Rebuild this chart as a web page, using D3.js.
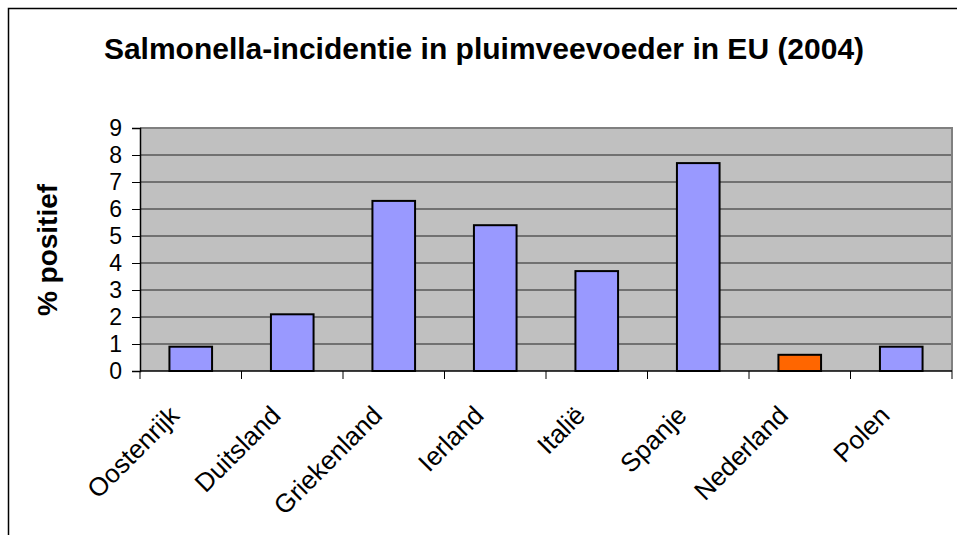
<!DOCTYPE html>
<html>
<head>
<meta charset="utf-8">
<script src="https://cdn.jsdelivr.net/npm/d3@7"></script>
<style>
  body { margin: 0; background: #fff; }
  text { font-family: Arial, "Liberation Sans", sans-serif; }
</style>
</head>
<body>
<svg id="svg"></svg>
<script>
const width = 957, height = 535;

const countries = ['Oostenrijk', 'Duitsland', 'Griekenland', 'Ierland', 'Italië', 'Spanje', 'Nederland', 'Polen'];
const values = [0.9, 2.1, 6.3, 5.4, 3.7, 7.7, 0.6, 0.9];
const highlight = ['Nederland'];
const yTicks = [0, 1, 2, 3, 4, 5, 6, 7, 8, 9];

const margin = { left: 140, right: 5, top: 128, bottom: 164 };
const plotW = width - margin.left - margin.right;
const plotH = height - margin.top - margin.bottom;

const svg = d3.select('#svg')
    .attr('width', width)
    .attr('height', height);

// outer chart frame (runs off the picture on the right and bottom)
svg.append('path')
    .attr('d', `M8.5,${height + 5}V8.5H${width + 5}`)
    .attr('fill', 'none')
    .attr('stroke', '#000')
    .attr('stroke-width', 1.5);

svg.append('text')
    .attr('x', 484)
    .attr('y', 59)
    .attr('text-anchor', 'middle')
    .style('font-size', '30px')
    .style('font-weight', 'bold')
    .text('Salmonella-incidentie in pluimveevoeder in EU (2004)');

const g = svg.append('g').attr('transform', `translate(${margin.left},${margin.top})`);

const x = d3.scaleBand()
    .domain(countries)
    .range([0, plotW])
    .paddingInner(0.58)
    .paddingOuter(0.29);

const y = d3.scaleLinear()
    .domain([0, 9])
    .range([plotH, 0]);

g.append('rect')
    .attr('width', plotW)
    .attr('height', plotH)
    .attr('fill', '#c0c0c0');

g.selectAll('line.grid')
    .data(yTicks.filter(d => d > 0 && d < 9))
    .enter()
    .append('line')
    .attr('class', 'grid')
    .attr('x1', 0)
    .attr('x2', plotW)
    .attr('y1', d => y(d))
    .attr('y2', d => y(d))
    .attr('stroke', '#222')
    .attr('stroke-width', 1);

// plot area border top / right
g.append('path')
    .attr('d', `M0,${y(9)}H${plotW}V${plotH}`)
    .attr('fill', 'none')
    .attr('stroke', '#808080')
    .attr('stroke-width', 2);

g.selectAll('rect.bar')
    .data(countries)
    .enter()
    .append('rect')
    .attr('class', 'bar')
    .attr('x', (d) => x(d))
    .attr('width', x.bandwidth())
    .attr('y', (d, i) => y(values[i]))
    .attr('height', (d, i) => plotH - y(values[i]))
    .attr('fill', d => highlight.includes(d) ? '#ff6600' : '#9999ff')
    .attr('stroke', '#000')
    .attr('stroke-width', 2);

const yAxis = g.append('g')
    .call(d3.axisLeft(y).tickValues(yTicks).tickSize(8).tickPadding(10).tickFormat(d3.format('d')));
yAxis.select('.domain').attr('stroke', '#000').attr('stroke-width', 1.5);
yAxis.selectAll('.tick line').attr('stroke', '#000');
yAxis.selectAll('.tick text')
    .style('font-size', '23px')
    .attr('fill', '#000');

const step = x.step();
const xAxis = g.append('g')
    .attr('transform', `translate(0,${plotH})`);
xAxis.append('line')
    .attr('x1', 0).attr('x2', plotW)
    .attr('stroke', '#000').attr('stroke-width', 1.5);
xAxis.selectAll('line.tick')
    .data(d3.range(countries.length + 1))
    .enter()
    .append('line')
    .attr('class', 'tick')
    .attr('x1', i => i * step)
    .attr('x2', i => i * step)
    .attr('y1', 0)
    .attr('y2', 8)
    .attr('stroke', '#000');
xAxis.selectAll('text')
    .data(countries)
    .enter()
    .append('text')
    .attr('transform', d => `translate(${x(d) + x.bandwidth() / 2 - 10},46) rotate(-45)`)
    .attr('text-anchor', 'end')
    .style('font-size', '26px')
    .text(d => d);

svg.append('text')
    .attr('transform', `translate(57,250) rotate(-90)`)
    .attr('text-anchor', 'middle')
    .style('font-size', '28px')
    .style('font-weight', 'bold')
    .text('% positief');
</script>
</body>
</html>
